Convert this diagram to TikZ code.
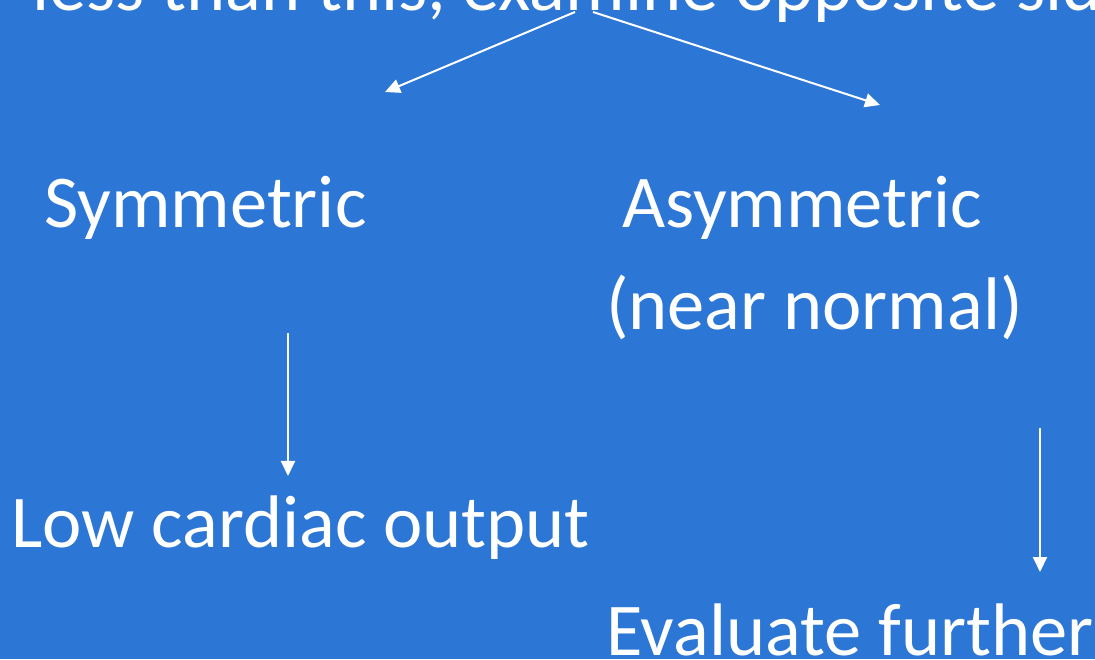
\documentclass[tikz,border=0pt]{standalone}
\usepackage{fontspec}
\setmainfont{Carlito}
\usetikzlibrary{arrows.meta}
\definecolor{bgblue}{RGB}{44,118,214}
\tikzset{
  lbl/.style={anchor=base west, inner sep=0pt, text=white, font=\fontsize{74.5pt}{89pt}\selectfont},
  arr/.style={draw=white, line width=2pt, -{Triangle[length=15pt,width=14pt]}}
}
\begin{document}
\begin{tikzpicture}[x=1pt,y=1pt]
\useasboundingbox (0,0) rectangle (1095,659);
\clip (0,0) rectangle (1095,659);
\fill[bgblue] (0,0) rectangle (1095,659);
\node[lbl] (top) at (32,648) {less than this, examine opposite side};
\node[lbl] (sym) at (44,431) {Symmetric};
\node[lbl] (asym) at (622,431) {Asymmetric};
\node[lbl] (near) at (606,329) {(near normal)};
\node[lbl] (low) at (11,111) {Low cardiac output};
\node[lbl] (eval) at (606,4) {Evaluate further};
\coordinate (t1) at (575,647);
\coordinate (t2) at (593,647);
\coordinate (s1) at (385,567);
\coordinate (a1) at (880,554);
\coordinate (v1a) at (288,326);
\coordinate (v1b) at (288,183);
\coordinate (v2a) at (1040,231);
\coordinate (v2b) at (1040,87);
\draw[arr] (t1) -- (s1);
\draw[arr] (t2) -- (a1);
\draw[arr] (v1a) -- (v1b);
\draw[arr] (v2a) -- (v2b);
\end{tikzpicture}
\end{document}
